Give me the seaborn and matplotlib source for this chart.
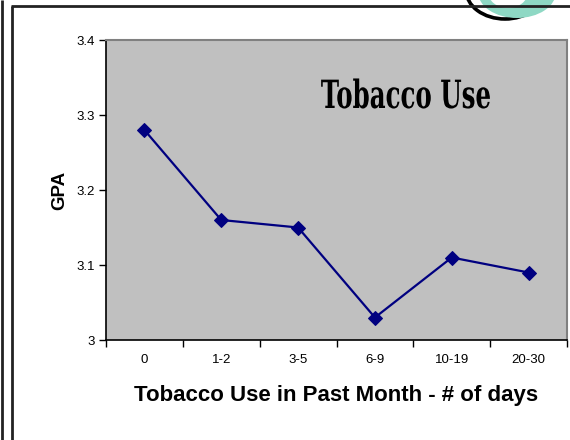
import matplotlib
matplotlib.use("Agg")
import matplotlib.pyplot as plt
import seaborn as sns
import pandas as pd
from matplotlib.patches import Ellipse, Arc
from matplotlib.patheffects import AbstractPathEffect
from matplotlib.transforms import Affine2D

# Data
categories = ["0", "1-2", "3-5", "6-9", "10-19", "20-30"]
gpa = [3.28, 3.16, 3.15, 3.03, 3.11, 3.09]
y_ticks = [3.0, 3.1, 3.2, 3.3, 3.4]
y_tick_labels = ["3", "3.1", "3.2", "3.3", "3.4"]


class SqueezeX(AbstractPathEffect):
    """Narrow the glyph outlines horizontally around a fixed display x."""

    def __init__(self, sx, cx):
        super().__init__()
        self.sx = sx
        self.cx = cx

    def draw_path(self, renderer, gc, tpath, affine, rgbFace=None):
        squeeze = Affine2D().translate(-self.cx, 0).scale(self.sx, 1).translate(self.cx, 0)
        renderer.draw_path(gc, tpath, affine + squeeze, rgbFace)


sns.set_theme(style="white")
plt.rcParams["font.family"] = ["Liberation Sans", "DejaVu Sans"]

W, H = 570, 440
fig = plt.figure(figsize=(W / 100, H / 100), dpi=100)
fig.patch.set_facecolor("white")

ax = fig.add_axes([106 / W, 1 - 340 / H, (567 - 106) / W, 300 / H])
ax.set_facecolor("#C0C0C0")

df = pd.DataFrame({"days": categories, "gpa": gpa})
sns.lineplot(data=df, x="days", y="gpa", ax=ax, color="#000080",
             linewidth=1.6, marker="D", markersize=7,
             markeredgecolor="#000080", sort=False)

ax.set_xlim(-0.5, len(categories) - 0.5)
ax.set_ylim(3.0, 3.4)
ax.set_yticks(y_ticks)
ax.set_yticklabels(y_tick_labels)
ax.set_xticks(range(len(categories)))
ax.set_xticklabels(categories)
ax.set_xticks([i - 0.5 for i in range(len(categories) + 1)], minor=True)

ax.tick_params(axis="x", which="major", length=0, pad=10, labelsize=9.5, colors="black")
ax.tick_params(axis="x", which="minor", length=5, width=1, direction="out", color="black", bottom=True)
ax.tick_params(axis="y", which="major", length=5, width=1, direction="out", pad=3,
               labelsize=9.5, colors="black", left=True)

for side in ["left", "bottom"]:
    ax.spines[side].set_color("black")
    ax.spines[side].set_linewidth(1.2)
for side in ["top", "right"]:
    ax.spines[side].set_color("#808080")
    ax.spines[side].set_linewidth(1.5)

ax.set_xlabel("Tobacco Use in Past Month - # of days", fontsize=16,
              fontweight="bold", labelpad=14, color="black")
ax.set_ylabel("GPA", fontsize=13.5, fontweight="bold", labelpad=6, color="black")

# Chart title inside the plot area, in a tall narrow serif
title_cx = 406
ax.text(title_cx, H - 97, "Tobacco Use", transform=None, ha="center", va="center",
        fontsize=28, fontweight="bold", family="DejaVu Serif", color="black",
        path_effects=[SqueezeX(0.63, title_cx)])

# Page frame and corner ornament, drawn in pixel coordinates
ov = fig.add_axes([0, 0, 1, 1], zorder=5)
ov.set_xlim(0, W)
ov.set_ylim(H, 0)
ov.axis("off")
ov.patch.set_alpha(0)

frame_kw = dict(color="#222222", linewidth=2, solid_capstyle="butt")
ov.plot([1.5, 1.5], [0, H], **frame_kw)
ov.plot([11.5, 11.5], [6, H], **frame_kw)
ov.plot([11, W], [6, 6], **frame_kw)

ov.add_patch(Ellipse((510, -6), 96, 54, facecolor="white", edgecolor="none"))
ov.add_patch(Arc((505, -10), 78, 58, theta1=0, theta2=180, color="black", linewidth=2.6))
ov.add_patch(Ellipse((517, -8), 78, 52, facecolor="#8ED8C4", edgecolor="none"))
ov.add_patch(Ellipse((508, -8), 40, 32, facecolor="white", edgecolor="none"))

fig.savefig("out.png", dpi=100, facecolor="white")
